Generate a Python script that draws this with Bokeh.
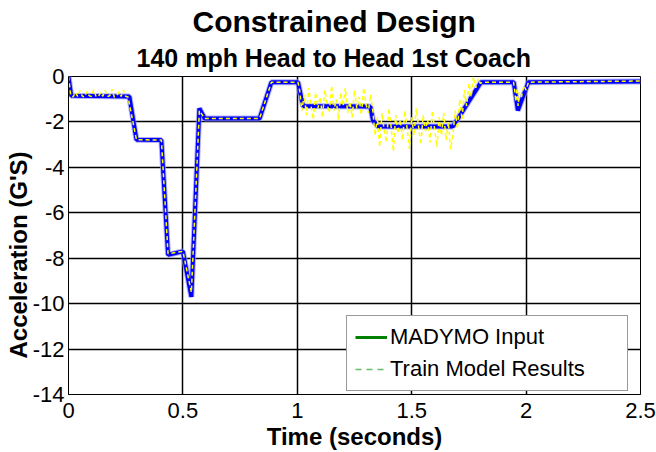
from bokeh.plotting import figure
from bokeh.models import Range1d, Title, Legend, LegendItem, FixedTicker
from bokeh.embed import file_html
from bokeh.resources import INLINE

# ---- data ----
madymo_t = [0.0, 0.012, 0.266, 0.297, 0.406, 0.435, 0.50, 0.537, 0.572, 0.595,
            0.835, 0.887, 1.003, 1.025, 1.319, 1.331, 1.352, 1.68, 1.803, 1.946,
            1.964, 2.01, 2.5]
madymo_g = [0.0, -0.85, -0.88, -2.78, -2.8, -7.85, -7.7, -9.7, -1.4, -1.85,
            -1.85, -0.25, -0.25, -1.3, -1.32, -1.94, -2.2, -2.2, -0.25, -0.25,
            -1.5, -0.25, -0.22]

train_t = [0.00, 0.01, 0.02, 0.03, 0.04, 0.05, 0.06, 0.07, 0.08, 0.09,
           0.10, 0.11, 0.12, 0.13, 0.14, 0.15, 0.16, 0.17, 0.18, 0.19,
           0.20, 0.21, 0.22, 0.23, 0.24, 0.25, 0.26,
           0.297, 0.406, 0.435, 0.50, 0.537, 0.572, 0.595, 0.835, 0.887, 1.003,
           1.01, 1.02, 1.03, 1.04, 1.05, 1.06, 1.07, 1.08, 1.09, 1.10,
           1.11, 1.12, 1.13, 1.14, 1.15, 1.16, 1.17, 1.18, 1.19, 1.20,
           1.21, 1.22, 1.23, 1.24, 1.25, 1.26, 1.27, 1.28, 1.29, 1.30,
           1.31, 1.32,
           1.33, 1.34, 1.35, 1.36, 1.37, 1.38, 1.39, 1.40, 1.41, 1.42,
           1.43, 1.44, 1.45, 1.46, 1.47, 1.48, 1.49, 1.50, 1.51, 1.52,
           1.53, 1.54, 1.55, 1.56, 1.57, 1.58, 1.59, 1.60, 1.61, 1.62,
           1.63, 1.64, 1.65, 1.66, 1.67,
           1.68, 1.69, 1.70, 1.71, 1.72, 1.73, 1.74, 1.75, 1.76, 1.77,
           1.78, 1.79, 1.80,
           1.81, 1.945, 1.95, 1.955, 1.96, 1.965, 1.97, 1.98, 1.99, 2.0,
           2.01, 2.5]
train_g = [0.0, -0.85, -0.9, -0.7, -0.88, -0.62, -0.86, -0.9, -0.66, -0.84,
           -0.88, -0.58, -0.86, -0.9, -0.7, -0.87, -0.62, -0.88, -0.85, -0.56,
           -0.9, -0.86, -0.68, -0.88, -0.6, -0.87, -0.9,
           -2.78, -2.8, -7.8, -7.7, -9.5, -1.5, -1.85, -1.85, -0.25, -0.25,
           -0.6, -1.5, -0.8, -1.7, -0.5, -1.3, -1.9, -0.7, -1.4, -0.9,
           -1.8, -0.6, -1.2, -1.6, -0.4, -1.5, -1.0, -1.9, -0.7, -1.3,
           -0.5, -1.6, -1.1, -1.8, -0.6, -1.4, -0.9, -1.7, -0.5, -1.2,
           -1.6, -0.8,
           -1.5, -2.6, -1.8, -3.1, -1.6, -2.4, -2.9, -1.4, -2.2, -3.3,
           -1.7, -2.5, -1.9, -2.8, -1.5, -2.3, -3.2, -1.8, -2.6, -1.4,
           -2.2, -3.0, -1.7, -2.4, -1.9, -2.9, -1.5, -2.3, -3.1, -1.8,
           -2.6, -1.6, -2.8, -2.0, -3.2,
           -2.6, -1.5, -2.3, -1.0, -1.9, -0.6, -1.3, -0.3, -0.9, 0.0,
           -0.5, -0.1, -0.3,
           -0.25, -0.25, -0.6, -1.1, -0.5, -1.3, -0.7, -0.9, -0.4, -0.6,
           -0.25, -0.2]

x_ticks = [0, 0.5, 1, 1.5, 2, 2.5]
x_tick_labels = ["0", "0.5", "1", "1.5", "2", "2.5"]
y_ticks = [-14, -12, -10, -8, -6, -4, -2, 0]
y_tick_labels = ["-14", "-12", "-10", "-8", "-6", "-4", "-2", "0"]

FONT = "Liberation Sans"
nan = float("nan")

p = figure(width=656, height=452, output_backend="svg", toolbar_location=None,
           title=None, x_range=Range1d(0, 2.5), y_range=Range1d(-14, 0),
           min_border_left=68, min_border_right=16, min_border_top=76,
           min_border_bottom=58)
p.background_fill_color = "white"
p.border_fill_color = "white"
p.outline_line_color = "black"
p.outline_line_width = 1

# titles (inner first, outer last)
p.add_layout(Title(text="140 mph Head to Head 1st Coach", align="left",
                   text_font=FONT, text_font_size="25px", text_font_style="bold",
                   text_color="black", standoff=9, offset=68), "above")
p.add_layout(Title(text="Constrained Design", align="left",
                   text_font=FONT, text_font_size="30px", text_font_style="bold",
                   text_color="black", standoff=0, offset=124), "above")

for ax in (p.xaxis[0], p.yaxis[0]):
    ax.major_label_text_font = FONT
    ax.major_label_text_font_size = "22px"
    ax.major_label_text_color = "black"
    ax.axis_label_text_font = FONT
    ax.axis_label_text_font_size = "24px"
    ax.axis_label_text_font_style = "bold"
    ax.axis_label_text_color = "black"
    ax.axis_line_color = "black"
    ax.major_tick_in = 0
    ax.major_tick_out = 0
    ax.minor_tick_line_color = None

p.xaxis.ticker = FixedTicker(ticks=x_ticks)
p.xaxis.major_label_overrides = dict(zip(x_ticks, x_tick_labels))
p.xaxis.axis_label = "Time (seconds)"
p.xaxis.major_label_standoff = 8
p.xaxis.axis_label_standoff = 2

p.yaxis.ticker = FixedTicker(ticks=y_ticks)
p.yaxis.major_label_overrides = dict(zip(y_ticks, y_tick_labels))
p.yaxis.major_label_standoff = 4

# y label as a left-side title so it can sit slightly below centre like the reference
p.add_layout(Title(text="Acceleration (G'S)", align="left",
                   text_font=FONT, text_font_size="24px", text_font_style="bold",
                   text_color="black", standoff=-4, offset=36), "left")

for g in (p.xgrid[0], p.ygrid[0]):
    g.grid_line_color = "black"
    g.grid_line_width = 1.5
    g.grid_line_alpha = 1.0
p.xgrid.ticker = FixedTicker(ticks=x_ticks)
p.ygrid.ticker = FixedTicker(ticks=y_ticks)

# data lines
p.line(madymo_t, madymo_g, line_color="#8c8cff", line_width=6, line_alpha=0.7)
p.line(madymo_t, madymo_g, line_color="#0000ff", line_width=4)
p.line(train_t, train_g, line_color="#ffff00", line_width=1.5, line_dash="4 3")

# legend (as in the reference, legend swatches are green)
leg_solid = p.line([nan], [nan], line_color="#008000", line_width=3)
leg_dash = p.line([nan], [nan], line_color="#66bb66", line_width=1.5, line_dash="6 5")
legend = Legend(items=[LegendItem(label="MADYMO Input", renderers=[leg_solid]),
                       LegendItem(label="Train Model Results", renderers=[leg_dash])],
                location=(278, 3), orientation="vertical",
                label_text_font=FONT, label_text_font_size="22px",
                label_text_color="black", glyph_width=32, glyph_height=26,
                label_height=26, label_width=229, label_standoff=3, padding=8,
                spacing=6, border_line_color="#333333", border_line_width=1,
                background_fill_color="white", background_fill_alpha=1.0)
p.add_layout(legend, "center")

open("out.html", "w").write(file_html(p, INLINE))
